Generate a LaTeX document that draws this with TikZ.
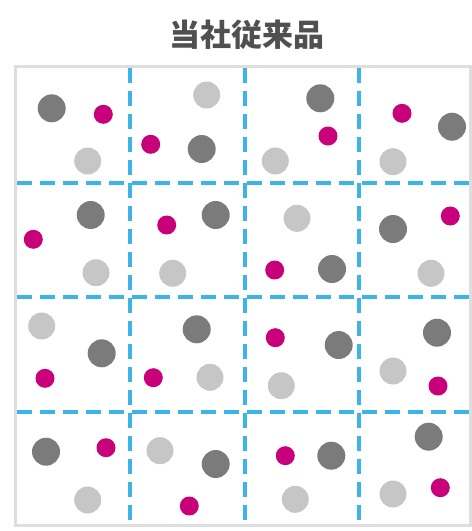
\documentclass[tikz,border=0pt]{standalone}
\usepackage{fontspec}
\newfontfamily\cjk{Noto Sans CJK JP}
\definecolor{dkgray}{HTML}{7B7B7B}
\definecolor{ltgray}{HTML}{C6C6C6}
\definecolor{mag}{HTML}{C8007A}
\definecolor{gridblue}{HTML}{3DB4E6}
\definecolor{framegray}{HTML}{DEDEDE}
\definecolor{titlegray}{HTML}{505050}
\tikzset{
  dk/.style={circle, fill=dkgray, minimum size=28pt, inner sep=0pt},
  lt/.style={circle, fill=ltgray, minimum size=27pt, inner sep=0pt},
  mg/.style={circle, fill=mag, minimum size=19pt, inner sep=0pt},
  gridline/.style={draw=gridblue, line width=3.2pt, dash pattern=on 15pt off 8pt},
  framebox/.style={draw=framegray, line width=3pt}
}
\begin{document}
\begin{tikzpicture}[x=1pt,y=-1pt]
\useasboundingbox (0,0) rectangle (472,531);
\node[font=\cjk\bfseries\fontsize{31}{36}\selectfont, text=titlegray] (title) at (247,35) {当社従来品};
\draw[framebox] (15,66) rectangle (470,525);
% grid
\draw[gridline] (130,68) -- (130,524);
\draw[gridline] (245,68) -- (245,524);
\draw[gridline] (359,68) -- (359,524);
\draw[gridline] (17,183) -- (469,183);
\draw[gridline] (17,297) -- (469,297);
\draw[gridline] (17,412) -- (469,412);
% row 1
\node[dk] (a1) at (51.7,108.3) {};
\node[mg] (a2) at (103.3,114.3) {};
\node[lt] (a3) at (87.7,161) {};
\node[lt] (b1) at (206.7,95) {};
\node[mg] (b2) at (150.7,144.3) {};
\node[dk] (b3) at (201.7,149) {};
\node[dk] (c1) at (320.3,98.3) {};
\node[mg] (c2) at (328,136) {};
\node[lt] (c3) at (275.3,161) {};
\node[mg] (d1) at (402,113.3) {};
\node[dk] (d2) at (452,126.7) {};
\node[lt] (d3) at (393,161.7) {};
% row 2
\node[dk] (e1) at (90.7,215) {};
\node[mg] (e2) at (33.3,239.3) {};
\node[lt] (e3) at (96,272.7) {};
\node[mg] (f1) at (166.7,225) {};
\node[dk] (f2) at (215.7,215) {};
\node[lt] (f3) at (172.7,273.3) {};
\node[lt] (g1) at (297,218.3) {};
\node[mg] (g2) at (274.7,270) {};
\node[dk] (g3) at (332,269) {};
\node[mg] (h1) at (450.3,216) {};
\node[dk] (h2) at (393,229) {};
\node[lt] (h3) at (431,273.3) {};
% row 3
\node[lt] (i1) at (41.7,326) {};
\node[dk] (i2) at (101.7,353.3) {};
\node[mg] (i3) at (45,378.3) {};
\node[dk] (j1) at (196.7,329.3) {};
\node[mg] (j2) at (153.3,377.7) {};
\node[lt] (j3) at (210,377.3) {};
\node[mg] (k1) at (275.3,337.7) {};
\node[dk] (k2) at (338.7,345) {};
\node[lt] (k3) at (281.3,385.7) {};
\node[dk] (l1) at (437,332.7) {};
\node[lt] (l2) at (393,371) {};
\node[mg] (l3) at (438,386) {};
% row 4
\node[dk] (m1) at (46,451.7) {};
\node[mg] (m2) at (106,447.7) {};
\node[lt] (m3) at (87.7,500) {};
\node[lt] (n1) at (160,450.7) {};
\node[dk] (n2) at (215.7,464) {};
\node[mg] (n3) at (189.3,506) {};
\node[mg] (o1) at (285.3,455.7) {};
\node[dk] (o2) at (331.3,455.7) {};
\node[lt] (o3) at (295.3,499.3) {};
\node[dk] (p1) at (428.7,436.7) {};
\node[mg] (p2) at (440.3,487.7) {};
\node[lt] (p3) at (393,494) {};
\end{tikzpicture}
\end{document}
